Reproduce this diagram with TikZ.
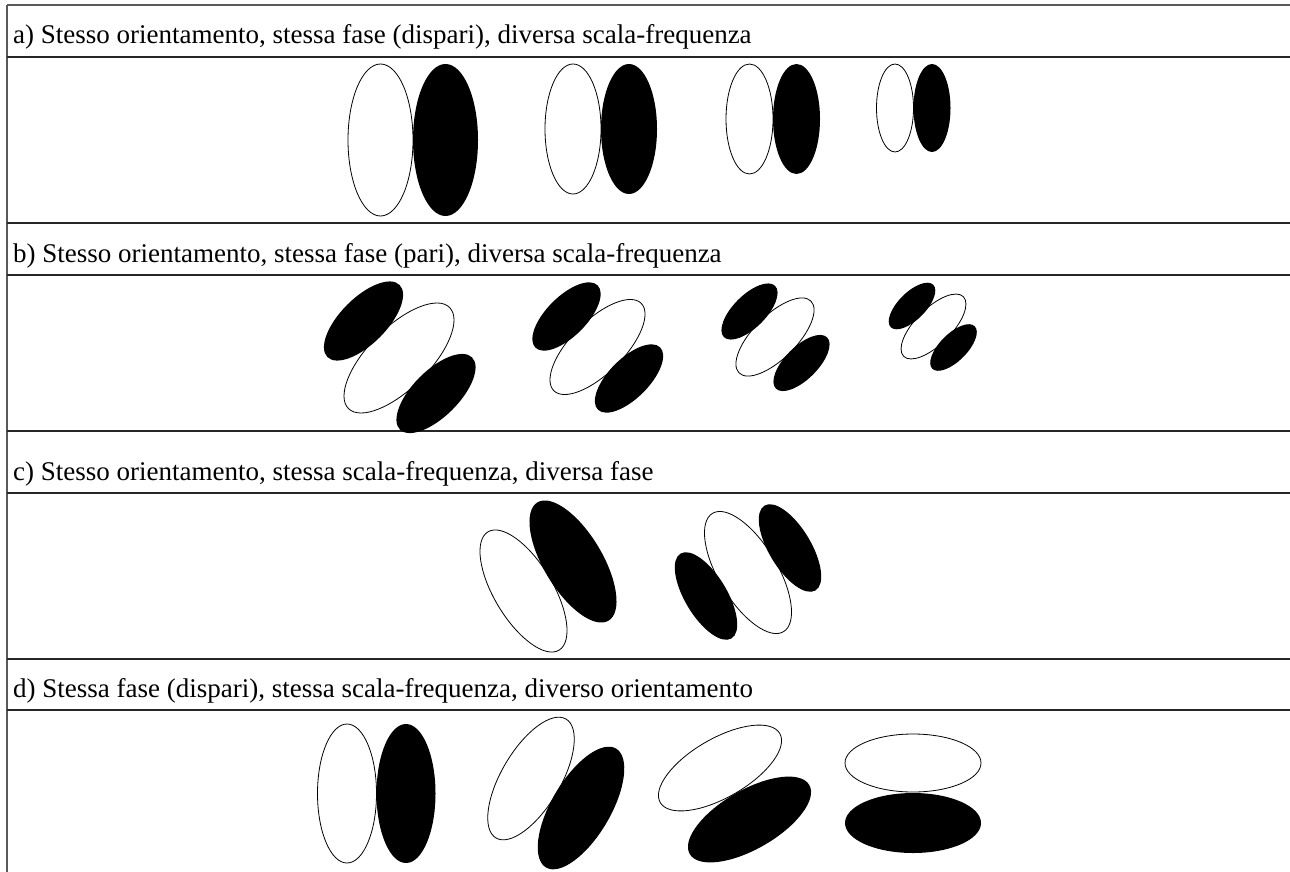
\documentclass[tikz,border=0pt]{standalone}
\usepackage{fontspec}
\setmainfont{Liberation Serif}
\begin{document}
\begin{tikzpicture}[x=1pt,y=-1pt,
  rule/.style={line width=1.3pt, draw=black!85},
  frame/.style={line width=1.6pt, draw=black!65},
  caption/.style={anchor=base west, inner sep=0pt, font=\fontsize{27}{32}\selectfont},
  lobeon/.style={fill=black},
  lobeoff/.style={fill=white, draw=black, line width=0.8pt}]
\useasboundingbox (0,0) rectangle (1290,872);
\fill[white] (0,0) rectangle (1290,872);

% table frame and row rules
\draw[frame] (7,5) -- (1290,5);
\draw[frame] (7,5) -- (7,872);
\foreach \yy in {57,223,275,431,493,659,710}
  \draw[rule] (7,\yy) -- (1290,\yy);

% row captions
\node[caption] (ta) at (13,44)  {a) Stesso orientamento, stessa fase (dispari), diversa scala-frequenza};
\node[caption] (tb) at (13,262) {b) Stesso orientamento, stessa fase (pari), diversa scala-frequenza};
\node[caption] (tc) at (13,480) {c) Stesso orientamento, stessa scala-frequenza, diversa fase};
\node[caption] (td) at (13,697) {d) Stessa fase (dispari), stessa scala-frequenza, diverso orientamento};

% a) odd pairs, vertical, shrinking scale
\path[lobeoff] (380.5,140) ellipse [x radius=32.5pt, y radius=76pt];
\path[lobeon]  (445.5,140) ellipse [x radius=32.5pt, y radius=76pt];
\path[lobeoff] (573,129) ellipse [x radius=28pt, y radius=65pt];
\path[lobeon]  (629,129) ellipse [x radius=28pt, y radius=65pt];
\path[lobeoff] (749.5,119) ellipse [x radius=23.5pt, y radius=55pt];
\path[lobeon]  (796.5,119) ellipse [x radius=23.5pt, y radius=55pt];
\path[lobeoff] (895,108) ellipse [x radius=18.5pt, y radius=44pt];
\path[lobeon]  (932,108) ellipse [x radius=18.5pt, y radius=44pt];

% b) even triplets at 45 degrees, shrinking scale
\path[lobeoff, rotate around={45:(399,358)}] (399,358) ellipse [x radius=71.5pt, y radius=30.6pt];
\path[lobeon, rotate around={45:(363.5,321)}] (363.5,321) ellipse [x radius=51pt, y radius=23pt];
\path[lobeon, rotate around={45:(436,393.5)}] (436,393.5) ellipse [x radius=51pt, y radius=23pt];

\path[lobeoff, rotate around={45:(597.5,347)}] (597.5,347) ellipse [x radius=61.8pt, y radius=26.4pt];
\path[lobeon, rotate around={45:(566.5,316.5)}] (566.5,316.5) ellipse [x radius=44pt, y radius=19.9pt];
\path[lobeon, rotate around={45:(629,378.5)}] (629,378.5) ellipse [x radius=44pt, y radius=19.9pt];

\path[lobeoff, rotate around={45:(775,337)}] (775,337) ellipse [x radius=50.8pt, y radius=21.7pt];
\path[lobeon, rotate around={45:(749.5,311.5)}] (749.5,311.5) ellipse [x radius=36.2pt, y radius=16.3pt];
\path[lobeon, rotate around={45:(801.5,363)}] (801.5,363) ellipse [x radius=36.2pt, y radius=16.3pt];

\path[lobeoff, rotate around={45:(933.5,326.5)}] (933.5,326.5) ellipse [x radius=42.2pt, y radius=18pt];
\path[lobeon, rotate around={45:(912,306)}] (912,306) ellipse [x radius=30pt, y radius=13.6pt];
\path[lobeon, rotate around={45:(953.5,347.5)}] (953.5,347.5) ellipse [x radius=30pt, y radius=13.6pt];

% c) same orientation and scale, odd then even phase
\path[lobeoff, rotate around={-59:(523.5,591)}] (523.5,591) ellipse [x radius=69pt, y radius=29.3pt];
\path[lobeon, rotate around={-59:(573,561.5)}] (573,561.5) ellipse [x radius=69pt, y radius=29.3pt];

\path[lobeoff, rotate around={-59:(748,572.5)}] (748,572.5) ellipse [x radius=69pt, y radius=29.3pt];
\path[lobeon, rotate around={-59:(706,596)}] (706,596) ellipse [x radius=49.5pt, y radius=21pt];
\path[lobeon, rotate around={-59:(790,548)}] (790,548) ellipse [x radius=49.5pt, y radius=21pt];

% d) odd pairs turning from vertical to horizontal
\path[lobeoff] (347,793.5) ellipse [x radius=29.5pt, y radius=69.5pt];
\path[lobeon]  (406,793.5) ellipse [x radius=29.5pt, y radius=69.5pt];

\path[lobeoff, rotate around={59.5:(531,778.5)}] (531,778.5) ellipse [x radius=69pt, y radius=29.5pt];
\path[lobeon, rotate around={59.5:(581,808)}] (581,808) ellipse [x radius=69pt, y radius=29.5pt];

\path[lobeoff, rotate around={30:(720,768)}] (720,768) ellipse [x radius=69pt, y radius=29.5pt];
\path[lobeon, rotate around={30:(749.5,819.5)}] (749.5,819.5) ellipse [x radius=69pt, y radius=29.5pt];

\path[lobeoff] (913,763) ellipse [x radius=68pt, y radius=29pt];
\path[lobeon]  (913,823) ellipse [x radius=68pt, y radius=30pt];
\end{tikzpicture}
\end{document}
